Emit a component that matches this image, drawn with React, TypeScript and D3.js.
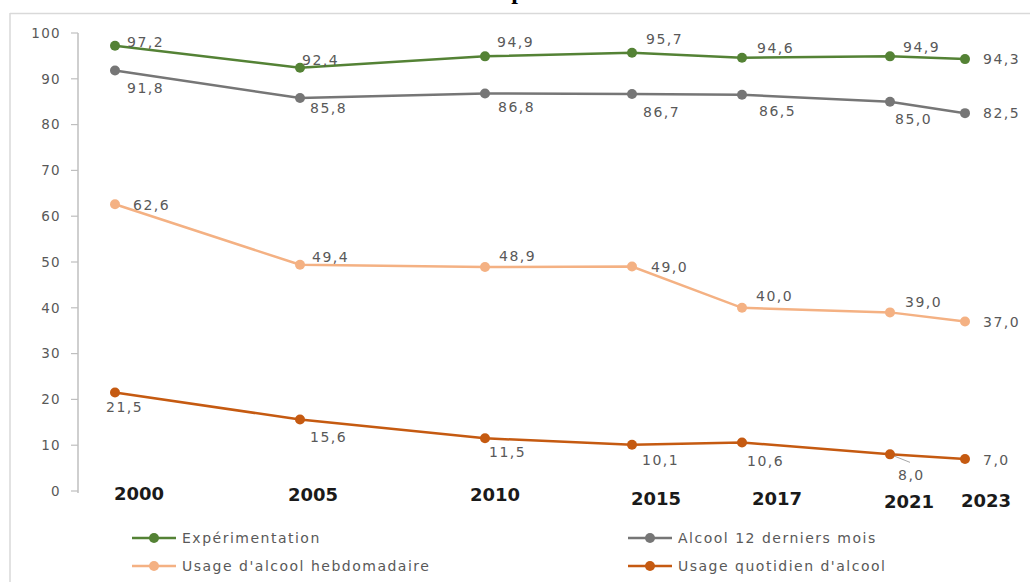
import React from 'react'
import * as d3 from 'd3'

// Years and series values (percent)
const years = [2000, 2005, 2010, 2015, 2017, 2021, 2023]
const experimentation = [97.2, 92.4, 94.9, 95.7, 94.6, 94.9, 94.3]
const alcool12mois = [91.8, 85.8, 86.8, 86.7, 86.5, 85.0, 82.5]
const hebdomadaire = [62.6, 49.4, 48.9, 49.0, 40.0, 39.0, 37.0]
const quotidien = [21.5, 15.6, 11.5, 10.1, 10.6, 8.0, 7.0]
const yTicks = [0, 10, 20, 30, 40, 50, 60, 70, 80, 90, 100]

// layout: x positions of each survey year (the source chart is not spaced by time)
const yearPx = [115, 300, 485, 632, 742, 890, 965]
const yearLabelDx = [24, 13, 10, 24, 35, 19, 21]
const yearLabelY = [500, 501, 501, 505, 505, 508, 507]

// label offsets [dx, dy] from each point (left edge, baseline)
const series = [
  { name: 'Expérimentation', values: experimentation, color: '#548235',
    offsets: [[12, 1], [2, -3], [12, -9], [14, -9], [15, -5], [13, -4], [18, 5]] },
  { name: 'Alcool 12 derniers mois', values: alcool12mois, color: '#767676',
    offsets: [[12, 22], [10, 15], [13, 19], [11, 23], [17, 21], [5, 22], [18, 5]] },
  { name: "Usage d'alcool hebdomadaire", values: hebdomadaire, color: '#f4b183',
    offsets: [[18, 6], [12, -3], [14, -6], [19, 5], [14, -7], [15, -5], [18, 5]] },
  { name: "Usage quotidien d'alcool", values: quotidien, color: '#c55a11',
    offsets: [[-9, 19], [10, 22], [4, 19], [10, 20], [5, 24], [8, 26], [18, 6]] },
]

const legendItems = [
  { s: 0, x: 132, y: 538 },
  { s: 2, x: 132, y: 566 },
  { s: 1, x: 628, y: 538 },
  { s: 3, x: 628, y: 566 },
]

const W = 1030
const H = 582
const fmt = (v: number) => v.toFixed(1).replace('.', ',')

export default function App() {
  const x = d3.scaleLinear().domain(years).range(yearPx)
  const y = d3.scaleLinear().domain([0, 100]).range([491, 33])
  const line = d3.line<number>().x((_, i) => x(years[i])).y(d => y(d))
  const textFont = 'DejaVu Sans, Verdana, sans-serif'

  return (
    <svg width={W} height={H} style={{ position: 'absolute', left: 0, top: 0, background: '#fff' }}
      fontFamily={textFont}>
      {/* clipped title glyph at the top edge */}
      <text x={518} y={-1} fontFamily="Liberation Serif, serif" fontWeight="bold" fontSize={24}
        textAnchor="middle" fill="#000">p</text>
      {/* frame */}
      <line x1={10} x2={W} y1={13.5} y2={13.5} stroke="#d9d9d9" strokeWidth={1.5} />
      <line x1={10} x2={10} y1={13} y2={H} stroke="#d9d9d9" strokeWidth={1.5} />

      {/* y axis */}
      <line x1={78} x2={78} y1={y(100)} y2={y(0) + 2} stroke="#bfbfbf" strokeWidth={1.5} />
      {yTicks.map(t => (
        <g key={t}>
          <line x1={71} x2={78} y1={y(t)} y2={y(t)} stroke="#bfbfbf" strokeWidth={1.2} />
          <text x={61} y={y(t)} dy="0.35em" textAnchor="end" fontSize={13.5} letterSpacing={1.3}
            fill="#595959">{t}</text>
        </g>
      ))}

      {/* year labels */}
      {years.map((yr, i) => (
        <text key={yr} x={x(yr) + yearLabelDx[i]} y={yearLabelY[i]} textAnchor="middle"
          fontWeight="bold" fontSize={18} fill="#1a1a1a">{yr}</text>
      ))}

      {/* leader line for 2021 daily-use label */}
      <line x1={x(2021)} y1={y(quotidien[5])} x2={x(2021) + 20} y2={y(quotidien[5]) + 8}
        stroke="#a6a6a6" strokeWidth={1} />

      {/* series */}
      {series.map(s => (
        <g key={s.name}>
          <path d={line(s.values) || ''} fill="none" stroke={s.color} strokeWidth={2.5} />
          {s.values.map((v, i) => (
            <circle key={i} cx={x(years[i])} cy={y(v)} r={5} fill={s.color} />
          ))}
          {s.values.map((v, i) => (
            <text key={'l' + i} x={x(years[i]) + s.offsets[i][0]} y={y(v) + s.offsets[i][1]}
              fontSize={14} letterSpacing={1.5} fill="#595959">{fmt(v)}</text>
          ))}
        </g>
      ))}

      {/* legend */}
      {legendItems.map(li => {
        const s = series[li.s]
        return (
          <g key={s.name}>
            <line x1={li.x} x2={li.x + 44} y1={li.y} y2={li.y} stroke={s.color} strokeWidth={2.5} />
            <circle cx={li.x + 22} cy={li.y} r={5} fill={s.color} />
            <text x={li.x + 50} y={li.y} dy="0.35em" fontSize={14} letterSpacing={1.5}
              fill="#595959">{s.name}</text>
          </g>
        )
      })}
    </svg>
  )
}
